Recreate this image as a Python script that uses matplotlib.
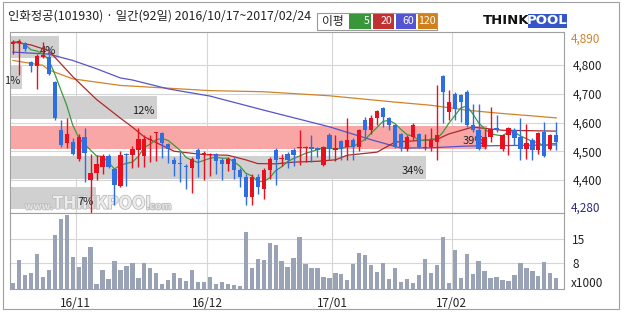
import numpy as np
import pandas as pd
import matplotlib
matplotlib.use("Agg")
import matplotlib.pyplot as plt
import matplotlib.patheffects as pe
from matplotlib.patches import Rectangle
from matplotlib.ticker import FuncFormatter

plt.rcParams['font.family'] = ['Noto Sans CJK KR', 'DejaVu Sans']

# --- data ---
title_text = "인화정공(101930) · 일간(92일) 2016/10/17~2017/02/24"
holidays = ["2016-12-30", "2017-01-27", "2017-01-30"]

opens = [4872, 4875, 4876, 4810, 4796, 4828, 4828, 4741, 4573, 4527,
         4532, 4474, 4550, 4400, 4423, 4445, 4484, 4437, 4379, 4492,
         4488, 4503, 4484, 4538, 4563, 4563, 4524, 4468, 4457, 4449,
         4440, 4503, 4490, 4487, 4492, 4468, 4457, 4474, 4434, 4411,
         4341, 4411, 4370, 4434, 4503, 4472, 4492, 4503, 4512, 4512,
         4515, 4511, 4453, 4557, 4506, 4534, 4515, 4538, 4515, 4607,
         4573, 4616, 4651, 4614, 4590, 4561, 4509, 4550, 4561, 4512,
         4515, 4532, 4762, 4637, 4700, 4695, 4706, 4590, 4573, 4515,
         4550, 4581, 4509, 4555, 4575, 4550, 4509, 4538, 4503, 4567,
         4509, 4555]
highs = [4886, 4890, 4880, 4815, 4840, 4880, 4862, 4745, 4608, 4615,
         4545, 4560, 4581, 4492, 4487, 4490, 4490, 4442, 4500, 4493,
         4518, 4580, 4555, 4555, 4567, 4567, 4530, 4480, 4498, 4455,
         4480, 4510, 4500, 4495, 4495, 4475, 4480, 4480, 4440, 4420,
         4420, 4420, 4440, 4480, 4510, 4490, 4498, 4510, 4573, 4517,
         4555, 4515, 4518, 4563, 4555, 4540, 4614, 4545, 4578, 4620,
         4625, 4645, 4655, 4620, 4595, 4565, 4555, 4600, 4565, 4560,
         4580, 4730, 4765, 4712, 4705, 4700, 4712, 4665, 4665, 4578,
         4654, 4625, 4560, 4585, 4580, 4614, 4596, 4545, 4567, 4602,
         4560, 4602]
lows = [4838, 4765, 4850, 4776, 4718, 4825, 4764, 4610, 4515, 4510,
        4487, 4465, 4393, 4280, 4400, 4420, 4440, 4313, 4375, 4380,
        4440, 4445, 4445, 4463, 4465, 4475, 4460, 4415, 4393, 4370,
        4355, 4410, 4400, 4415, 4420, 4400, 4430, 4405, 4376, 4312,
        4312, 4350, 4335, 4405, 4382, 4450, 4440, 4450, 4451, 4463,
        4463, 4480, 4450, 4470, 4466, 4468, 4468, 4468, 4500, 4540,
        4560, 4590, 4585, 4575, 4510, 4500, 4500, 4540, 4510, 4505,
        4500, 4468, 4600, 4608, 4608, 4602, 4585, 4567, 4503, 4509,
        4532, 4567, 4500, 4486, 4520, 4468, 4474, 4468, 4490, 4480,
        4503, 4503]
closes = [4880, 4882, 4855, 4796, 4831, 4834, 4770, 4614, 4521, 4561,
          4492, 4550, 4494, 4423, 4457, 4484, 4445, 4383, 4488, 4488,
          4507, 4544, 4541, 4544, 4566, 4527, 4509, 4457, 4455, 4445,
          4474, 4474, 4493, 4490, 4465, 4457, 4474, 4434, 4411, 4341,
          4411, 4376, 4434, 4474, 4468, 4476, 4468, 4488, 4516, 4515,
          4507, 4503, 4515, 4509, 4510, 4509, 4538, 4515, 4573, 4573,
          4616, 4639, 4619, 4590, 4515, 4515, 4550, 4593, 4515, 4515,
          4538, 4555, 4705, 4672, 4648, 4672, 4590, 4573, 4509, 4550,
          4579, 4573, 4555, 4581, 4546, 4509, 4529, 4503, 4563, 4482,
          4555, 4532]
volumes = [1.9, 8.8, 4.2, 4.9, 10.6, 3.6, 5.6, 16.4, 21.1, 22.4,
           9.7, 6.7, 9.7, 12.6, 1.5, 5.8, 3.0, 8.5, 5.8, 7.0,
           7.9, 3.3, 7.9, 6.4, 4.9, 1.5, 2.7, 4.9, 3.3, 2.4,
           5.6, 2.1, 2.1, 3.6, 1.5, 2.1, 1.5, 1.2, 0.9, 17.3,
           6.4, 9.1, 8.8, 13.9, 13.3, 8.5, 6.7, 9.4, 15.8, 7.6,
           6.4, 6.4, 3.6, 3.3, 4.8, 4.5, 2.7, 7.6, 10.9, 10.3,
           7.3, 5.2, 7.9, 3.0, 6.4, 2.1, 3.0, 1.8, 4.2, 9.1,
           4.8, 7.3, 15.8, 1.8, 11.8, 3.3, 10.6, 4.5, 8.5, 5.5,
           3.3, 3.6, 2.7, 2.4, 4.2, 7.9, 6.4, 5.5, 3.9, 8.2,
           4.8, 3.3]

# long moving averages, read at a few candles
ma20_idx = [0, 3, 6, 10, 14, 18, 20, 22, 27, 32, 36, 39, 41, 44, 47, 51, 54, 56, 61, 64, 71, 73, 77, 82, 91]
ma20_val = [4880, 4870, 4850, 4760, 4680, 4615, 4584, 4550, 4500, 4488, 4486, 4470, 4457, 4456, 4462,
            4465, 4470, 4486, 4497, 4532, 4541, 4560, 4584, 4573, 4570]
ma60_idx = [0, 6, 10, 14, 18, 20, 26, 33, 42, 53, 60, 65, 70, 76, 91]
ma60_val = [4845, 4838, 4816, 4787, 4755, 4748, 4717, 4692, 4643, 4585, 4540, 4511, 4512, 4518, 4522]
ma120_idx = [0, 5, 6, 10, 18, 33, 42, 53, 64, 70, 76, 81, 87, 91]
ma120_val = [4816, 4799, 4783, 4752, 4729, 4711, 4707, 4693, 4671, 4660, 4643, 4633, 4623, 4616]

# price-volume distribution bands, bottom to top (percent)
band_pct = [7, 34, 39, 12, 1, 4]
current_band = 2

# --- styling ---
RED = '#e8101e'
BLUE = '#2e6ee0'
C5, C20, C60, C120 = '#3c9a3c', '#b02828', '#5555c8', '#d08428'
GRID = '#d6d6d6'
FRAME = '#a0a0a0'

W, H = 624, 312


def fx(px):
    return px / W


def fy(py):
    return 1 - py / H


dates = pd.bdate_range("2016-10-17", "2017-02-24")
dates = dates[~dates.isin(pd.to_datetime(holidays))]
n = len(closes)
x = np.arange(n)
o = np.array(opens)
c = np.array(closes)
hi = np.array(highs)
lo = np.array(lows)
ma5 = pd.Series(closes).rolling(5, min_periods=1).mean()

month_pos = [i - 0.5 for i in range(1, n) if dates[i].month != dates[i - 1].month]
month_lab = [dates[i].strftime('%y/%m') for i in range(1, n) if dates[i].month != dates[i - 1].month]

fig = plt.figure(figsize=(W / 100, H / 100), dpi=100)
ax = fig.add_axes([fx(10), fy(213), fx(554), 181 / H])
axv = fig.add_axes([fx(10), fy(289), fx(554), 76 / H], sharex=ax)

y0, y1 = 4285, 4915
ax.set_xlim(-0.5, n + 0.3)
ax.set_ylim(y0, y1)

# grid
for yv in [4400, 4500, 4600, 4700, 4800]:
    ax.axhline(yv, color=GRID, lw=0.8, zorder=0)
for mp in month_pos:
    ax.axvline(mp, color=GRID, lw=0.8, zorder=0)
    axv.axvline(mp, color=GRID, lw=0.8, zorder=0)

# volume distribution bands
slot = (y1 - y0) / len(band_pct)
for k, p in enumerate(band_pct):
    yc = y0 + slot * (k + 0.5)
    col = '#f8a6a6' if k == current_band else '#d0d0d0'
    ax.barh(yc, p * 2.05, height=slot * 0.75, left=-0.5, color=col, zorder=1)
    ax.text(-0.5 + p * 2.05 - 0.4, yc - slot * 0.12, f"{p}%", ha='right', va='center',
            fontsize=8, color='#222222', zorder=2)

# faint watermark
wm = [pe.withStroke(linewidth=1.2, foreground='#bdbdbd')]
ax.text(2.0, y0 + 5, "www.", fontsize=7, color='#e4e4e4', fontweight='bold', zorder=1.5,
        va='bottom', path_effects=wm)
ax.text(6.6, y0 + 1, "THINKPOOL", fontsize=12.5, color='#ececec', fontweight='heavy', zorder=1.5,
        va='bottom', path_effects=wm)
ax.text(22.3, y0 + 5, ".com", fontsize=7.5, color='#e4e4e4', fontweight='bold', zorder=1.5,
        va='bottom', path_effects=wm)

# moving averages
ax.plot(ma120_idx, ma120_val, color=C120, lw=0.9, zorder=3)
ax.plot(ma60_idx, ma60_val, color=C60, lw=0.9, zorder=3)
ax.plot(ma20_idx, ma20_val, color=C20, lw=0.9, zorder=3)
ax.plot(x, ma5, color=C5, lw=0.9, zorder=3)

# candles
up = c >= o
colors = np.where(up, RED, BLUE)
ax.vlines(x, lo, hi, colors=colors, lw=1, zorder=4)
body = np.maximum(np.abs(c - o), 2.5)
ax.bar(x, body, bottom=np.minimum(o, c), width=0.72, color=colors, zorder=5)

# right axis labels
ax.yaxis.tick_right()
ax.set_yticks([4400, 4500, 4600, 4700, 4800])
ax.yaxis.set_major_formatter(FuncFormatter(lambda v, _: f"{int(v):,}"))
ax.tick_params(axis='y', length=0, pad=6, labelsize=8.5, labelcolor='#222222')
ax.text(1.013, max(highs), f"{max(highs):,}", transform=ax.get_yaxis_transform(),
        va='center', ha='left', fontsize=8.5, color='#d08428')
ax.text(1.013, y0 + 5, f"{min(lows):,}", transform=ax.get_yaxis_transform(),
        va='baseline', ha='left', fontsize=8.5, color='#2a2a8a')
ax.tick_params(axis='x', length=0, labelbottom=False)

# volume
axv.set_ylim(0, 23)
for yv in [8, 15]:
    axv.axhline(yv, color=GRID, lw=0.8, zorder=0)
axv.bar(x, volumes, width=0.72, color='#9aa2b6', zorder=2)
axv.yaxis.tick_right()
axv.set_yticks([8, 15])
axv.set_yticklabels(['8', '15'])
axv.tick_params(axis='y', length=0, pad=6, labelsize=8.5, labelcolor='#222222')
axv.text(1.013, 0.6, "x1000", transform=axv.get_yaxis_transform(), va='baseline', ha='left',
         fontsize=8.5, color='#222222')
axv.set_xticks(month_pos)
axv.set_xticklabels(month_lab)
axv.tick_params(axis='x', length=0, pad=6, labelsize=8.5, labelcolor='#222222')

for a in (ax, axv):
    for s in a.spines.values():
        s.set_color(FRAME)
        s.set_linewidth(0.8)

# outer frame and header
fig.patches.append(Rectangle((fx(3), fy(309)), fx(616), 307 / H, transform=fig.transFigure,
                             fill=False, edgecolor=FRAME, lw=0.8))
fig.text(fx(8), fy(16), title_text, fontsize=8.9, color='#222222', va='center', ha='left')

fig.patches.append(Rectangle((fx(317), fy(30)), fx(120), 17 / H, transform=fig.transFigure,
                             fill=False, edgecolor='#999999', lw=0.8))
fig.text(fx(322), fy(21.5), "이평", fontsize=8.5, color='#222222', va='center', ha='left')
for (x0, wpx, lab, col) in [(349, 22, '5', '#3a963a'), (373, 21, '20', '#c03232'),
                            (396, 20, '60', '#5454d0'), (418, 19, '120', '#cf7f1c')]:
    fig.patches.append(Rectangle((fx(x0), fy(29)), fx(wpx), 15 / H, transform=fig.transFigure,
                                 facecolor=col, edgecolor='none'))
    fig.text(fx(x0 + wpx - 1.5), fy(21.5), lab, fontsize=7.6, color='white', va='center', ha='right')

fig.text(fx(483), fy(21), "THINK", fontsize=9.5, fontweight='heavy', color='#111111',
         va='center', ha='left', family='DejaVu Sans')
fig.patches.append(Rectangle((fx(528), fy(28)), fx(39), 14 / H, transform=fig.transFigure,
                             facecolor='#3456c8', edgecolor='none'))
fig.text(fx(547.5), fy(21), "POOL", fontsize=9.5, fontweight='heavy', color='white',
         va='center', ha='center', family='DejaVu Sans')

fig.savefig("out.png", dpi=100)
